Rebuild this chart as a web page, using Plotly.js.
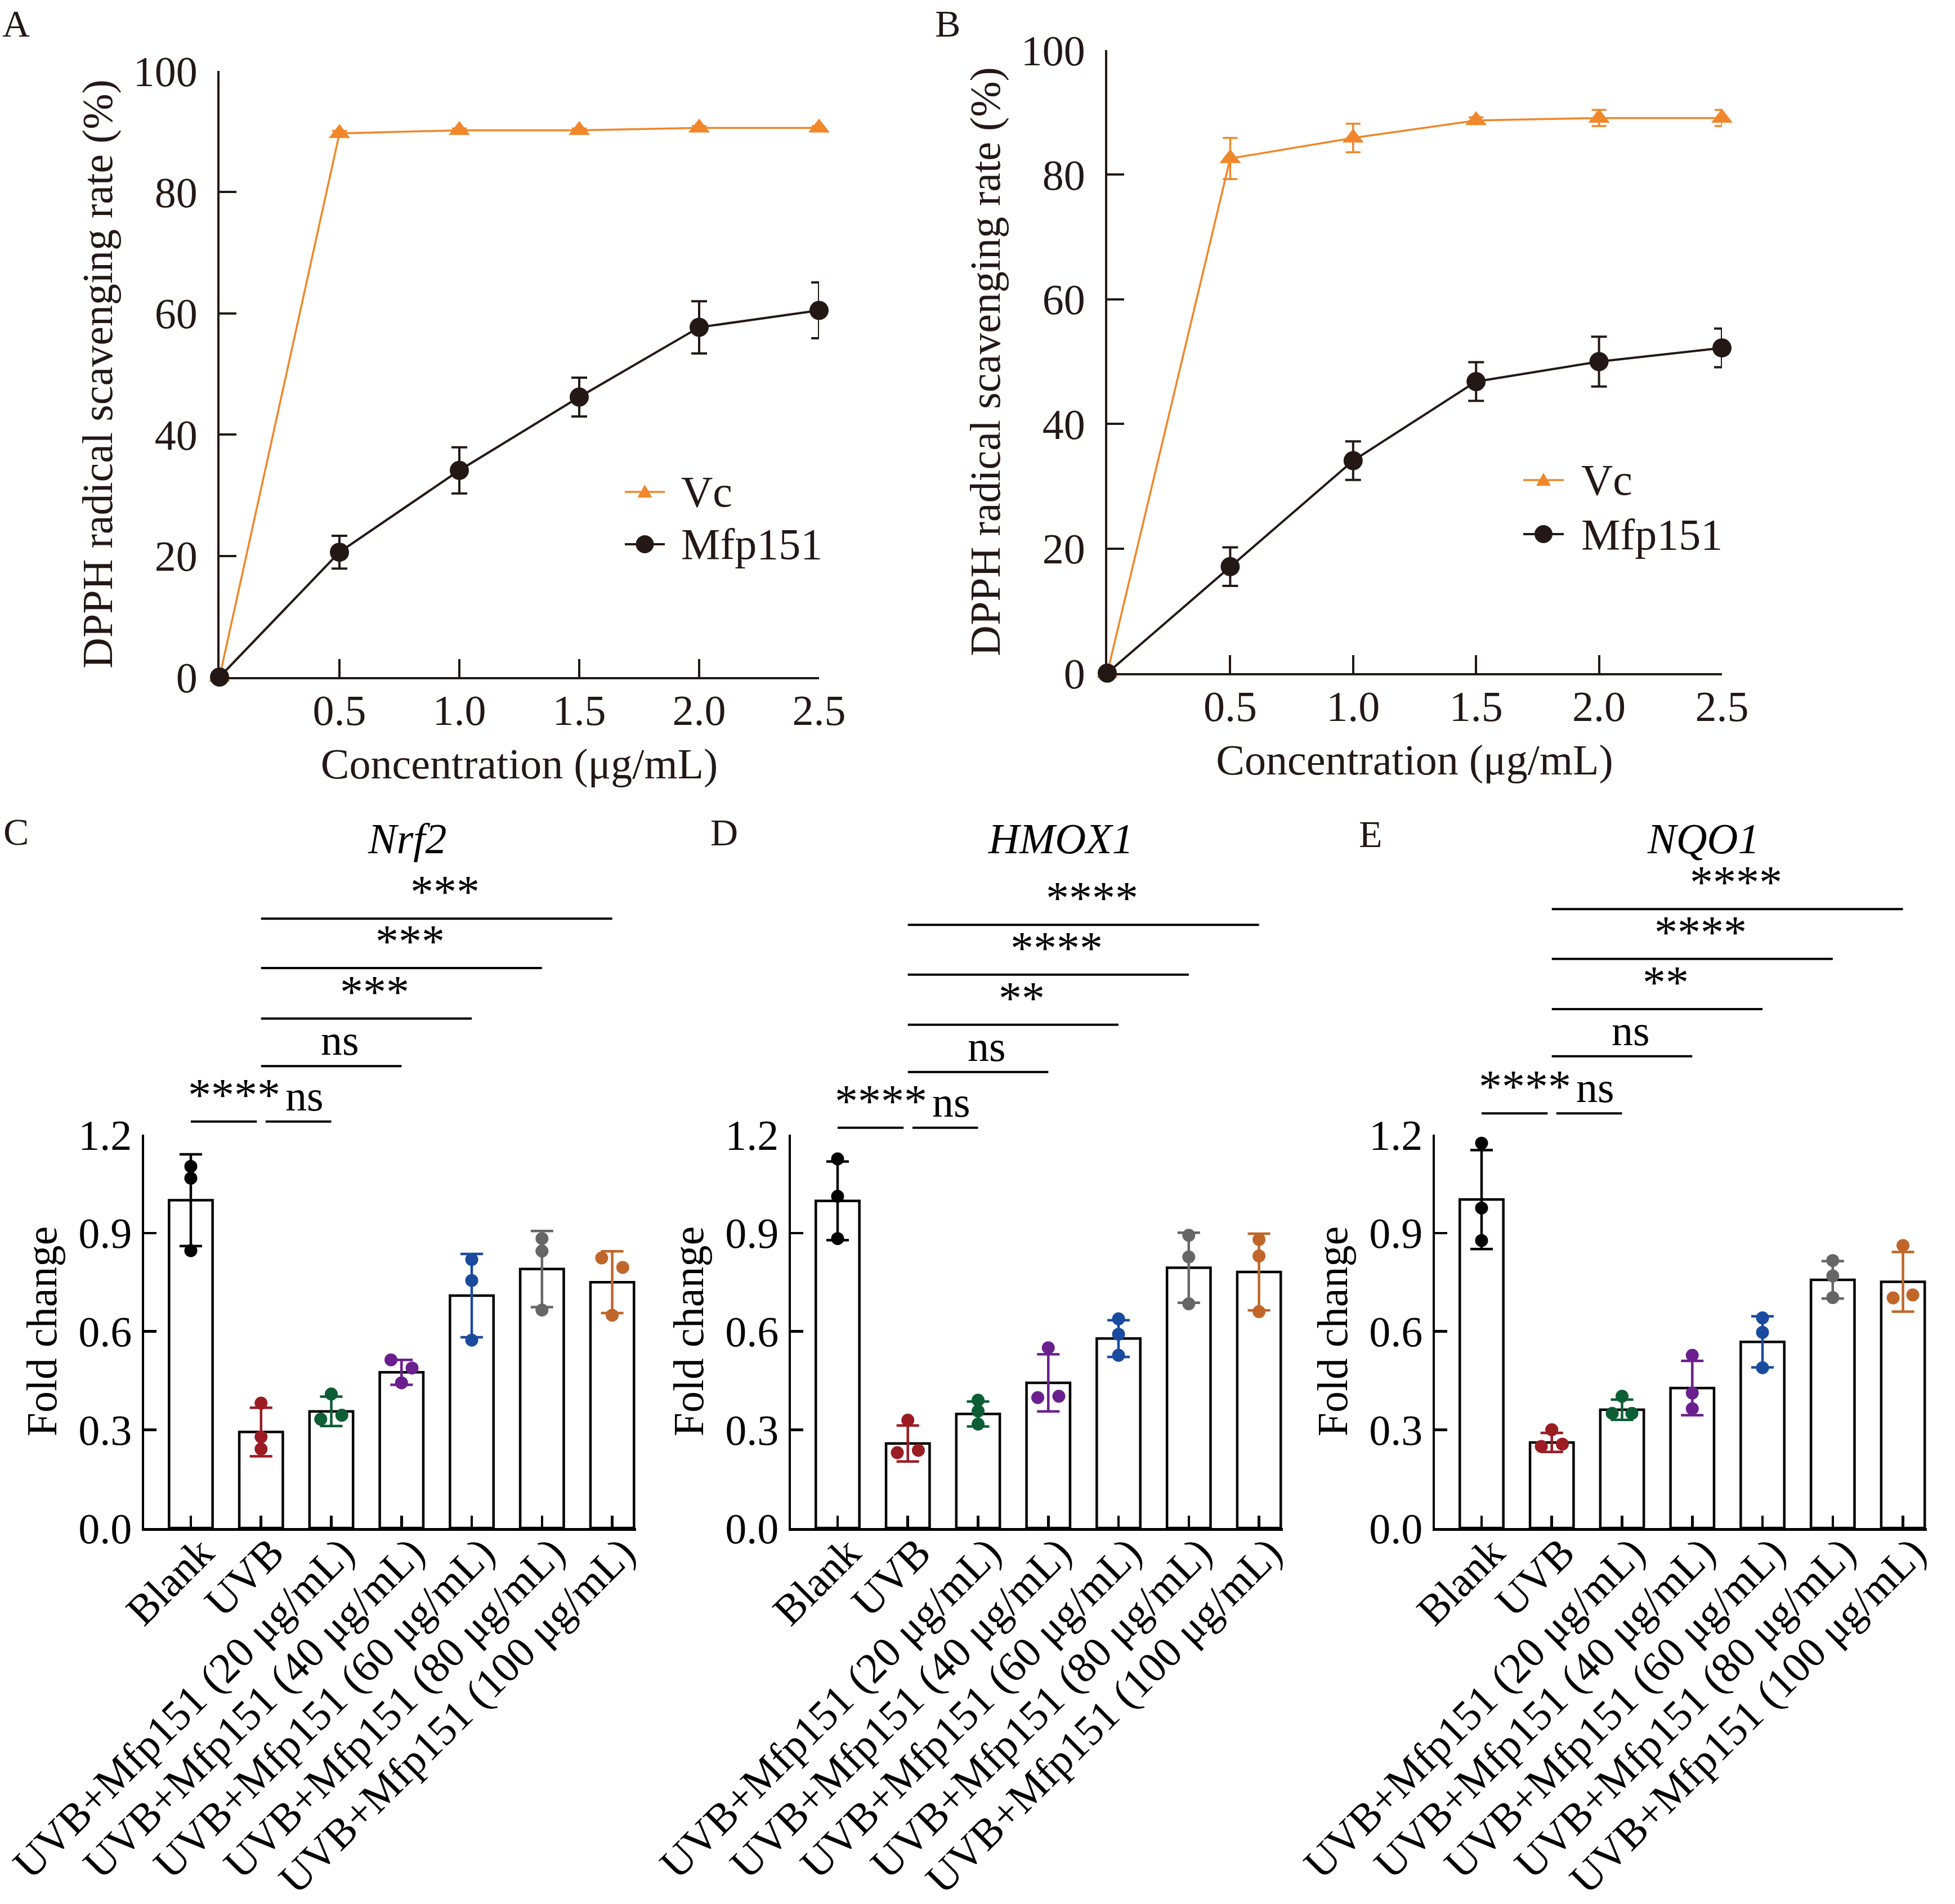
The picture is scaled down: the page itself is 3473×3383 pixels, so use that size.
<!DOCTYPE html>
<html>
<head>
<meta charset="utf-8">
<script src="https://cdn.plot.ly/plotly-3.0.1.min.js"></script>
<style>html,body{margin:0;padding:0;background:#fff}</style>
</head>
<body>
<div id="chart" style="width:3473px;height:3383px"></div>
<script>
// ---- DPPH scavenging (A, B) ----
var conc = [0, 0.5, 1.0, 1.5, 2.0, 2.5];
var vcA = [0, 89.7, 90.2, 90.2, 90.6, 90.6];
var vcAErr = [0, 0.4, 0.3, 0.3, 0.3, 0.3];
var mfpA = [0, 20.6, 34.1, 46.2, 57.7, 60.5];
var mfpAErr = [0, 2.7, 3.8, 3.2, 4.3, 4.6];
var vcB = [0, 82.6, 85.9, 88.7, 89.1, 89.1];
var vcBErr = [0, 3.3, 2.3, 0.5, 1.3, 1.3];
var mfpB = [0, 17.1, 34.1, 46.8, 50.0, 52.2];
var mfpBErr = [0, 3.1, 3.1, 3.1, 4.0, 3.1];
var seriesNames = ['Vc', 'Mfp151'];

// ---- qPCR fold change (C, D, E) ----
var groups = ['Blank', 'UVB', 'UVB+Mfp151 (20 μg/mL)', 'UVB+Mfp151 (40 μg/mL)',
  'UVB+Mfp151 (60 μg/mL)', 'UVB+Mfp151 (80 μg/mL)', 'UVB+Mfp151 (100 μg/mL)'];
var groupColors = ['#000000', '#9b1c22', '#0d5e35', '#6b1f8e', '#1a4b9e', '#666666', '#c0662a'];

var nrf2Mean = [1.00, 0.293, 0.356, 0.475, 0.709, 0.790, 0.750];
var nrf2Sd = [0.140, 0.074, 0.045, 0.038, 0.127, 0.116, 0.094];
var nrf2Pts = [[1.103, 1.067, 0.846], [0.381, 0.278, 0.241], [0.409, 0.332, 0.344], [0.513, 0.488, 0.443],
  [0.819, 0.755, 0.573], [0.883, 0.845, 0.665], [0.824, 0.795, 0.649]];
var nrf2Jit = [[0, 0, 0], [0, 0, 0], [0, -0.15, 0.15], [-0.15, 0.15, 0], [0, 0, 0], [0, 0, 0], [-0.15, 0.15, 0]];
var nrf2Sig = ['****', 'ns', 'ns', '***', '***', '***'];

var hmox1Mean = [0.998, 0.258, 0.348, 0.443, 0.578, 0.794, 0.781];
var hmox1Sd = [0.120, 0.055, 0.038, 0.087, 0.056, 0.107, 0.117];
var hmox1Pts = [[1.126, 1.012, 0.883], [0.329, 0.230, 0.237], [0.390, 0.357, 0.317], [0.550, 0.398, 0.402],
  [0.638, 0.591, 0.527], [0.893, 0.827, 0.684], [0.880, 0.830, 0.660]];
var hmox1Jit = [[0, 0, 0], [0, -0.15, 0.15], [0, 0, 0], [0, -0.15, 0.15], [0, 0, 0], [0, 0, 0], [0, 0, 0]];
var hmox1Sig = ['****', 'ns', 'ns', '**', '****', '****'];

var nqo1Mean = [1.002, 0.261, 0.361, 0.427, 0.568, 0.757, 0.751];
var nqo1Sd = [0.151, 0.029, 0.031, 0.083, 0.078, 0.057, 0.091];
var nqo1Pts = [[1.174, 0.976, 0.877], [0.300, 0.249, 0.256], [0.402, 0.350, 0.350], [0.527, 0.412, 0.364],
  [0.641, 0.597, 0.489], [0.816, 0.769, 0.703], [0.862, 0.702, 0.711]];
var nqo1Jit = [[0, 0, 0], [0, -0.15, 0.15], [0, -0.14, 0.14], [0, 0, 0], [0, 0, 0], [0, 0, 0], [0, -0.14, 0.14]];
var nqo1Sig = ['****', 'ns', 'ns', '**', '****', '****'];

var sigPairs = [[0, 1], [1, 2], [1, 3], [1, 4], [1, 5], [1, 6]];

// layout helpers (pixel -> paper)
var W = 3473, H = 3383;
var serif = 'Liberation Serif, Times New Roman, serif';
var ink = '#231815';
var orange = '#f0872a';
function px(v) { return v / W; }
function py(v) { return 1 - v / H; }

var traces = [];
var shapes = [];
var annotations = [];
var layout = {
  width: W, height: H,
  margin: {l: 0, r: 0, t: 0, b: 0},
  paper_bgcolor: '#fff', plot_bgcolor: 'rgba(0,0,0,0)',
  font: {family: serif, size: 76, color: ink},
  showlegend: false,
  bargap: 0
};

// legend drawn as key shapes + labels (Plotly caps legend marker size)
function drawKey(lx0, lx1, ly, textX, name, isVc) {
  var cx = (lx0 + lx1) / 2;
  var col = isVc ? orange : ink;
  shapes.push({type: 'line', xref: 'paper', yref: 'paper', x0: px(lx0), x1: px(lx1), y0: py(ly), y1: py(ly),
    line: {color: col, width: isVc ? 3.5 : 4}});
  if (isVc) {
    shapes.push({type: 'path', xref: 'paper', yref: 'paper', xsizemode: 'pixel', ysizemode: 'pixel',
      xanchor: px(cx), yanchor: py(ly), path: 'M-13,-10 L13,-10 L0,13 Z', fillcolor: col, line: {width: 0}});
  } else {
    shapes.push({type: 'circle', xref: 'paper', yref: 'paper', xsizemode: 'pixel', ysizemode: 'pixel',
      xanchor: px(cx), yanchor: py(ly), x0: -16, x1: 16, y0: -16, y1: 16, fillcolor: col, line: {width: 0}});
  }
  annotations.push({xref: 'paper', yref: 'paper', x: px(textX), y: py(ly), xanchor: 'left', yanchor: 'middle',
    showarrow: false, text: name, font: {family: serif, size: 78, color: ink}});
}

// ---- line panels ----
function linePanel(n, vc, vcErr, mfp, mfpErr, xd, yd) {
  var xa = n === 1 ? 'x' : 'x' + n, ya = n === 1 ? 'y' : 'y' + n;
  traces.push({
    x: conc, y: vc, name: seriesNames[0], type: 'scatter', mode: 'lines+markers',
    xaxis: xa, yaxis: ya, cliponaxis: false,
    line: {color: orange, width: 3.5},
    marker: {symbol: 'triangle-up', size: 33, color: orange},
    error_y: {type: 'data', array: vcErr, visible: true, color: orange, thickness: 3.5, width: 13}
  });
  traces.push({
    x: conc, y: mfp, name: seriesNames[1], type: 'scatter', mode: 'lines+markers',
    xaxis: xa, yaxis: ya, cliponaxis: false,
    line: {color: ink, width: 4},
    marker: {symbol: 'circle', size: 34, color: ink},
    error_y: {type: 'data', array: mfpErr, visible: true, color: ink, thickness: 4, width: 14}
  });
  var xk = n === 1 ? 'xaxis' : 'xaxis' + n, yk = n === 1 ? 'yaxis' : 'yaxis' + n;
  layout[xk] = {
    domain: xd, anchor: ya, range: [0, 2.5], showgrid: false, zeroline: false,
    showline: true, linecolor: ink, linewidth: 4,
    ticks: 'inside', ticklen: 32, tickwidth: 4, tickcolor: ink,
    tickvals: [0.5, 1.0, 1.5, 2.0, 2.5], ticktext: ['0.5', '1.0', '1.5', '2.0', '2.5'],
    ticklabelstandoff: -10,
    tickfont: {family: serif, size: 76, color: ink},
    title: {text: 'Concentration (μg/mL)', font: {family: serif, size: 76, color: ink}, standoff: 28}
  };
  layout[yk] = {
    domain: yd, anchor: xa, range: [0, 100], showgrid: false, zeroline: false,
    showline: true, linecolor: ink, linewidth: 4,
    ticks: 'inside', ticklen: 30, tickwidth: 4, tickcolor: ink,
    tickvals: [0, 20, 40, 60, 80, 100],
    ticklabelstandoff: 20,
    tickfont: {family: serif, size: 76, color: ink},
    title: {text: 'DPPH radical scavenging rate (%)', font: {family: serif, size: 76, color: ink}, standoff: 13}
  };
}

linePanel(1, vcA, vcAErr, mfpA, mfpAErr, [px(390), px(1455)], [py(1203), py(126)]);
linePanel(2, vcB, vcBErr, mfpB, mfpBErr, [px(1967), px(3059)], [py(1196), py(89)]);

drawKey(1110, 1181, 874, 1208, seriesNames[0], true);
drawKey(1110, 1181, 967, 1208, seriesNames[1], false);
drawKey(2706, 2778, 853, 2807, seriesNames[0], true);
drawKey(2706, 2778, 949, 2807, seriesNames[1], false);

// ---- bar panels ----
var barY = [py(2715), py(2016)];
function barPanel(n, gene, means, sds, pts, jit, sig, levels, xd, titleX) {
  var xa = 'x' + n, ya = 'y' + n;
  traces.push({
    x: [0, 1, 2, 3, 4, 5, 6], y: means, type: 'bar', xaxis: xa, yaxis: ya,
    width: 0.62, marker: {color: '#fff', line: {color: '#000', width: 4.5}}
  });
  for (var g = 0; g < groups.length; g++) {
    traces.push({
      x: jit[g].map(function (d) { return g + d; }), y: pts[g], type: 'scatter', mode: 'markers',
      xaxis: xa, yaxis: ya, cliponaxis: false,
      marker: {size: 23, color: groupColors[g]}
    });
    traces.push({
      x: [g], y: [means[g]], type: 'scatter', mode: 'markers', xaxis: xa, yaxis: ya,
      cliponaxis: false, marker: {size: 1, opacity: 0},
      error_y: {type: 'data', array: [sds[g]], visible: true, color: groupColors[g], thickness: 4.5, width: 20}
    });
  }
  layout['xaxis' + n] = {
    domain: xd, anchor: ya, range: [-0.665, 6.34], showgrid: false, zeroline: false,
    showline: true, linecolor: '#000', linewidth: 4.5,
    ticks: 'inside', ticklen: 22, tickwidth: 4.5, tickcolor: '#000',
    tickvals: [0, 1, 2, 3, 4, 5, 6], ticktext: groups, tickangle: -45,
    ticklabelstandoff: -36, ticklabelshift: 18, ticklabeloverflow: 'allow',
    tickfont: {family: serif, size: 76, color: '#000'}
  };
  layout['yaxis' + n] = {
    domain: barY, anchor: xa, range: [0, 1.2], showgrid: false, zeroline: false,
    showline: true, linecolor: '#000', linewidth: 4.5,
    ticks: 'inside', ticklen: 22, tickwidth: 4.5, tickcolor: '#000',
    tickvals: [0, 0.3, 0.6, 0.9, 1.2], ticktext: ['0.0', '0.3', '0.6', '0.9', '1.2'],
    ticklabelstandoff: 2,
    tickfont: {family: serif, size: 76, color: '#000'},
    title: {text: 'Fold change', font: {family: serif, size: 76, color: '#000'}, standoff: 15}
  };
  // significance brackets above the plot area
  for (var i = 0; i < sigPairs.length; i++) {
    var a = sigPairs[i][0], b = sigPairs[i][1];
    var x0 = a, x1 = b;
    if (b - a === 1 && b === 1) x1 -= 0.06;
    if (b - a === 1 && a === 1) x0 += 0.065;
    var yp = barY[0] + levels[i] / 1.2 * (barY[1] - barY[0]);
    shapes.push({type: 'line', xref: xa, yref: 'paper', x0: x0, x1: x1, y0: yp, y1: yp,
      line: {color: '#000', width: 4}});
    var isStar = sig[i].charAt(0) === '*';
    annotations.push({xref: xa, yref: 'paper', x: (a + b) / 2, y: yp, xshift: 15, yshift: isStar ? 0 : 2,
      xanchor: 'center', yanchor: 'bottom', showarrow: false, text: sig[i],
      font: {family: serif, size: isStar ? 82 : 76, color: '#000'}});
  }
  annotations.push({xref: 'paper', yref: 'paper', x: px(titleX), y: py(1490), xanchor: 'center', yanchor: 'middle',
    showarrow: false, text: '<i>' + gene + '</i>', font: {family: serif, size: 76, color: '#000'}});
}

// bracket heights in fold-change units
var nrf2Levels = [1.240, 1.240, 1.409, 1.554, 1.708, 1.859];
var hmox1Levels = [1.221, 1.221, 1.391, 1.535, 1.688, 1.840];
var nqo1Levels = [1.265, 1.265, 1.439, 1.583, 1.736, 1.888];

barPanel(3, 'Nrf2', nrf2Mean, nrf2Sd, nrf2Pts, nrf2Jit, nrf2Sig, nrf2Levels, [px(256), px(1130)], 723);
barPanel(4, 'HMOX1', hmox1Mean, hmox1Sd, hmox1Pts, hmox1Jit, hmox1Sig, hmox1Levels, [px(1405), px(2279)], 1884);
barPanel(5, 'NQO1', nqo1Mean, nqo1Sd, nqo1Pts, nqo1Jit, nqo1Sig, nqo1Levels, [px(2549), px(3423)], 3025);

// panel letters
var letters = [['A', 28, 42], ['B', 1683, 42], ['C', 28, 1478], ['D', 1286, 1479], ['E', 2435, 1482]];
letters.forEach(function (l) {
  annotations.push({xref: 'paper', yref: 'paper', x: px(l[1]), y: py(l[2]), xanchor: 'center', yanchor: 'middle',
    showarrow: false, text: l[0], font: {family: serif, size: 68, color: ink}});
});

layout.shapes = shapes;
layout.annotations = annotations;

Plotly.newPlot('chart', traces, layout, {staticPlot: true});
</script>
</body>
</html>
